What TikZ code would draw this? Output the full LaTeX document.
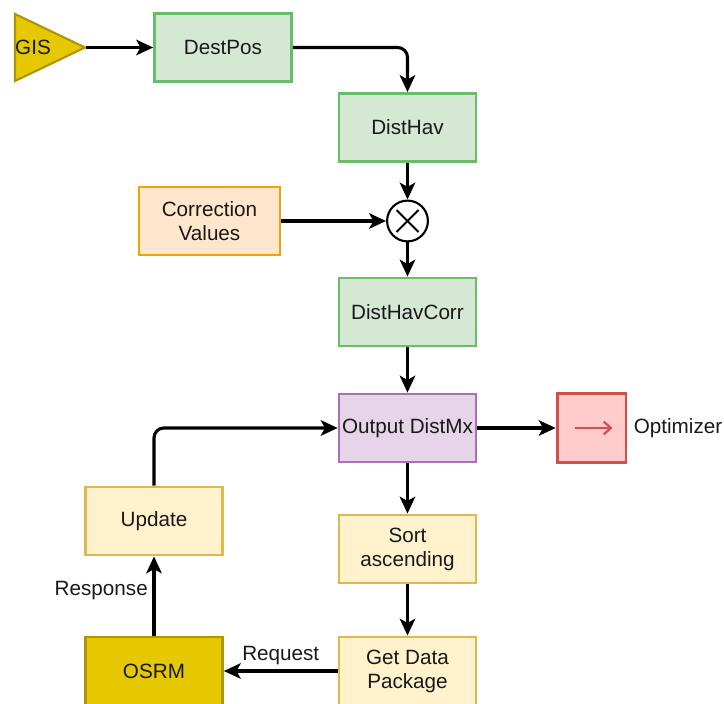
\documentclass[tikz,border=0pt]{standalone}
\usepackage{fontspec}
\setmainfont{Liberation Sans}
\usepackage{tikz}
\usetikzlibrary{calc,arrows.meta,positioning}

\definecolor{grnfill}{HTML}{D5E8D4}
\definecolor{grnline}{HTML}{6ABD68}
\definecolor{orgfill}{HTML}{FFE6CC}
\definecolor{orgline}{HTML}{F0A30A}
\definecolor{purfill}{HTML}{E6D5E9}
\definecolor{purline}{HTML}{A673B0}
\definecolor{redfill}{HTML}{FFCCCB}
\definecolor{redline}{HTML}{D0504E}
\definecolor{yelfill}{HTML}{FFF2CC}
\definecolor{yelline}{HTML}{E0B850}
\definecolor{goldfill}{HTML}{E6C800}
\definecolor{goldline}{HTML}{B09500}

\begin{document}
\begin{tikzpicture}[
        x=0.025cm, y=-0.025cm,
        >={Stealth[length=12pt, width=11pt, inset=3pt]},
        font=\fontsize{14.7}{17}\selectfont,
        box/.style={draw, line width=2pt, minimum width=3.42cm, minimum height=1.7cm,
            align=center, inner sep=1pt, text=black!90},
        calcbox/.style={box, draw=grnline, fill=grnfill},
        corrbox/.style={box, draw=orgline, fill=orgfill, minimum width=3.52cm},
        mxbox/.style={box, draw=purline, fill=purfill},
        optbox/.style={box, draw=redline, fill=redfill, minimum width=1.72cm, minimum height=1.72cm},
        stepbox/.style={box, draw=yelline, fill=yelfill},
        osrmbox/.style={box, draw=goldline, fill=goldfill},
        mult/.style={draw, circle, line width=1.5pt, fill=white, minimum size=1.02cm, inner sep=0pt},
        flow/.style={->, line width=2.2pt},
        txt/.style={text=black!90}
    ]
        \useasboundingbox (0,0) rectangle (724,704);

        % Eingang GIS
        \draw[line width=1.5pt, draw=goldline, fill=goldfill] (15,14) -- (85,47.5) -- (15,81) -- cycle;
        \node[txt] (gis) at (33,47.5) {GIS};
        \coordinate (gistip) at (86,47.5);

        % Luftlinie
        \node[calcbox] (destpos) at (223,47.5) {DestPos};
        \node[calcbox] (disthav) at (407.5,127.5) {DistHav};
        \node[corrbox] (corr) at (209.5,221) {Correction\\Values};
        \node[mult] (prod) at (407.5,221) {};
        \draw[line width=1.3pt] ($(prod.center)+(-11,-11)$) -- ($(prod.center)+(11,11)$);
        \draw[line width=1.3pt] ($(prod.center)+(-11,11)$) -- ($(prod.center)+(11,-11)$);
        \node[calcbox] (disthavcorr) at (407.5,312) {DistHavCorr};

        % Matrix und Optimierer
        \node[mxbox] (distmx) at (407.5,428) {Output DistMx};
        \node[optbox] (optim) at (591.5,428) {};
        \draw[-{Straight Barb[length=5pt, width=9pt]}, line width=1.6pt, redline]
            ($(optim.center)+(-17,0)$) -- ($(optim.center)+(21,0)$);
        \node[txt] (optlabel) at (678,428) {Optimizer};

        % OSRM-Schleife
        \node[stepbox] (update) at (154,521) {Update};
        \node[stepbox] (sortasc) at (407.5,549) {Sort\\ascending};
        \node[stepbox] (getdata) at (407.5,671) {Get Data\\Package};
        \node[osrmbox] (osrm) at (154,671) {OSRM};

        % Verbindungen
        \draw[flow] (gistip) -- (destpos.west);
        \draw[flow, rounded corners=7pt] (destpos.east) -| (disthav.north);
        \draw[flow] (disthav.south) -- (prod.north);
        \draw[flow] (corr.east) -- (prod.west);
        \draw[flow] (prod.south) -- (disthavcorr.north);
        \draw[flow] (disthavcorr.south) -- (distmx.north);
        \draw[flow] (distmx.east) -- (optim.west);
        \draw[flow] (distmx.south) -- (sortasc.north);
        \draw[flow] (sortasc.south) -- (getdata.north);
        \draw[flow] (getdata.west) -- (osrm.east) node[midway, above, txt] {Request};
        \draw[flow] (osrm.north) -- (update.south) node[pos=0.57, left, txt] {Response};
        \draw[flow, rounded corners=7pt] (update.north) |- (distmx.west);
\end{tikzpicture}
\end{document}
